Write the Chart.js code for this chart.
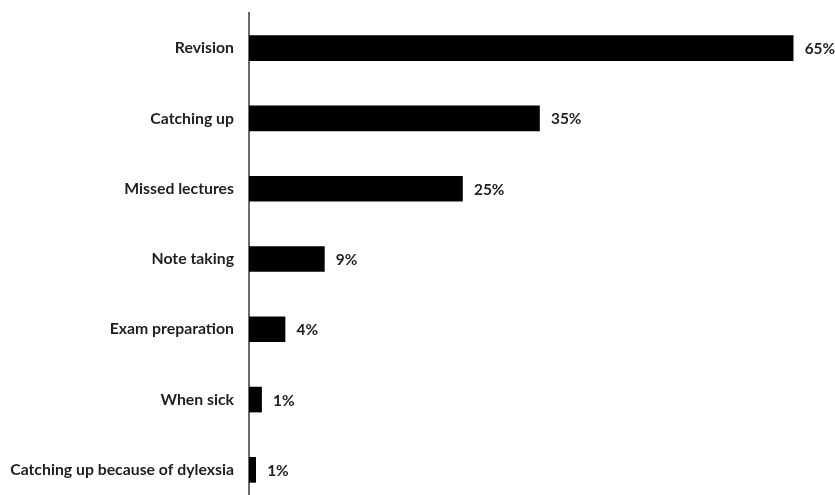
<!DOCTYPE html>
<html>
<head>
<meta charset="utf-8">
<script src="https://cdn.jsdelivr.net/npm/chart.js@4/dist/chart.umd.min.js"></script>
<style>
html,body{margin:0;padding:0;background:#fff;overflow:hidden;width:835px;height:495px;}
canvas{display:block;}
</style>
</head>
<body>
<canvas id="c" width="835" height="505"></canvas>
<script>
const categories = ["Revision","Catching up","Missed lectures","Note taking","Exam preparation","When sick","Catching up because of dylexsia"];
const values = [65, 34.7, 25.5, 9, 4.3, 1.5, 0.8];
const valueLabels = ["65%","35%","25%","9%","4%","1%","1%"];
const xMax = 70;

const FONT = "Lato, 'Open Sans', sans-serif";
const FONT_SIZE = 15.8;
const VALUE_FONT_SIZE = 15.4;

const labelPlugin = {
  id: 'barLabels',
  afterDatasetsDraw(chart) {
    const ctx = chart.ctx;
    const meta = chart.getDatasetMeta(0);
    ctx.save();
    ctx.font = "bold " + VALUE_FONT_SIZE + "px " + FONT;
    ctx.fillStyle = '#1f1f1f';
    ctx.textBaseline = 'middle';
    ctx.textAlign = 'left';
    meta.data.forEach((bar, i) => {
      ctx.fillText(valueLabels[i], bar.x + 11.5, bar.y + 1);
    });
    ctx.restore();
  }
};

new Chart(document.getElementById('c'), {
  type: 'bar',
  data: {
    labels: categories,
    datasets: [{
      data: values,
      backgroundColor: '#000000',
      borderWidth: 0,
      barThickness: 25
    }]
  },
  options: {
    indexAxis: 'y',
    responsive: false,
    devicePixelRatio: 1,
    animation: false,
    layout: { padding: { top: 13, right: 0, bottom: 0, left: 0 } },
    plugins: { legend: { display: false }, tooltip: { enabled: false } },
    scales: {
      x: { display: false, min: 0, max: xMax },
      y: {
        afterFit(scale) {
          scale.width = 249;
          scale.paddingTop = 0;
          scale.paddingBottom = 0;
        },
        grid: { display: false, drawTicks: false },
        border: { display: true, color: '#6b6b6b', width: 2 },
        ticks: {
          color: '#1f1f1f',
          padding: 15,
          font: { family: FONT, size: FONT_SIZE, weight: 'bold' }
        }
      }
    }
  },
  plugins: [labelPlugin]
});
</script>
</body>
</html>
